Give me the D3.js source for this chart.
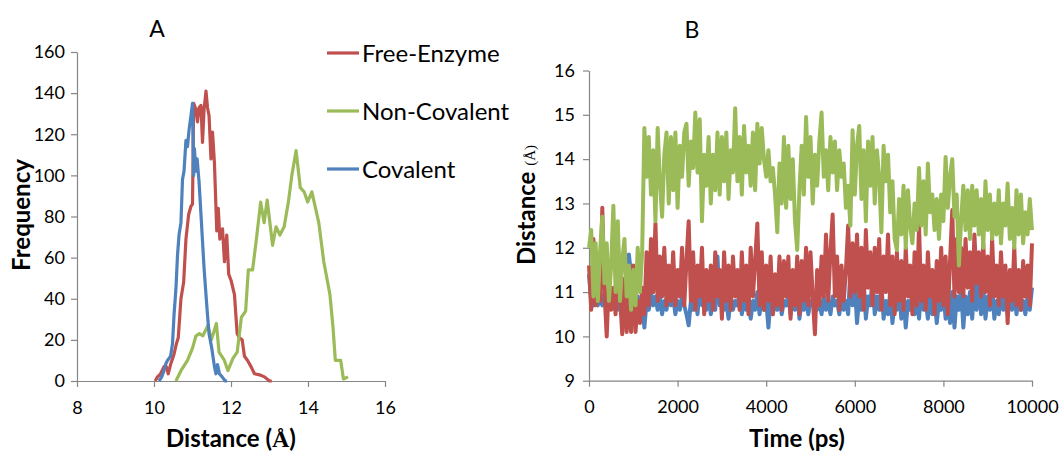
<!DOCTYPE html>
<meta charset="utf-8">
<script src="https://d3js.org/d3.v7.min.js"></script>
<style>
  body { margin: 0; background: #fff; }
  text { font-family: Lato, "Open Sans", sans-serif; fill: #000; }
</style>
<div id="chart"></div>
<script>

  // ---- panel A : distance histograms (distance in Å, frequency) ----
  const freeEnzymeHist = [[10.03,0],[10.09,2],[10.17,3.5],[10.26,7],[10.32,7],[10.37,3.5],[10.43,8],[10.52,13],[10.58,18],[10.63,21],[10.7,40],[10.77,48],[10.83,69],[10.9,81],[10.96,85],[11.0,86],[11.03,135],[11.09,132],[11.13,126],[11.17,133],[11.22,134],[11.26,116],[11.3,132],[11.35,141],[11.39,133],[11.43,129],[11.48,108],[11.52,121],[11.57,106],[11.63,73],[11.67,84],[11.71,69],[11.78,74],[11.83,58],[11.89,71],[11.94,52],[12.0,49],[12.09,42],[12.16,23],[12.22,21],[12.29,20],[12.35,12],[12.43,10],[12.52,7],[12.61,3.5],[12.74,3],[12.87,2],[13.0,0],[13.06,0]];
  const nonCovalentHist = [[10.57,0],[10.7,5],[10.87,10],[11.0,16],[11.09,22],[11.18,23],[11.27,22],[11.4,27],[11.49,20],[11.62,28],[11.69,14],[11.83,10],[11.92,5],[12.05,11],[12.16,14],[12.27,31],[12.38,34],[12.45,54],[12.56,54],[12.66,69],[12.77,87],[12.86,77],[12.94,88],[13.08,66],[13.17,75],[13.27,71],[13.38,75],[13.49,87],[13.58,100],[13.69,112],[13.8,94],[13.9,92],[13.99,87],[14.1,92],[14.28,77],[14.41,58],[14.57,42],[14.65,26],[14.71,10],[14.85,10],[14.92,1],[15.04,2]];
  const covalentHist = [[10.13,0],[10.2,2],[10.26,5],[10.3,8],[10.35,10],[10.43,12],[10.48,18],[10.52,32],[10.57,45],[10.61,61],[10.65,71],[10.7,77],[10.74,98],[10.78,102],[10.83,117],[10.87,114],[10.91,122],[10.96,129],[11.0,135],[11.03,100],[11.05,113],[11.09,102],[11.12,108],[11.17,97],[11.22,81],[11.26,68],[11.3,55],[11.35,42],[11.39,32],[11.43,23],[11.5,16],[11.57,7],[11.61,3.5],[11.65,8],[11.7,3.5],[11.77,2],[11.85,0],[11.9,0]];

  const distTicksA = [8, 10, 12, 14, 16];
  const freqTicksA = [0, 20, 40, 60, 80, 100, 120, 140, 160];

  // ---- panel B : distance vs time, one value every frame (0 .. 10000 ps) ----
  const timeSpan = 10000;
  const freeEnzymeTime = [11.6,10.6,12.2,10.7,11.4,10.8,12.9,11.0,10.0,11.3,10.6,11.1,10.5,12.2,10.9,10.05,11.3,10.1,11.0,10.1,11.6,10.1,10.8,10.3,11.1,
    10.5,11.9,10.7,12.2,11.0,12.55,10.8,11.8,10.9,12.0,10.7,11.6,10.8,11.9,10.7,11.5,10.9,12.0,10.7,11.7,12.6,10.8,11.9,10.6,11.6,
    10.9,12.0,10.5,11.5,10.8,11.6,10.6,11.9,10.9,11.5,10.4,11.9,10.8,11.6,10.6,11.8,10.9,11.5,10.6,11.9,10.8,11.6,10.5,12.0,10.9,
    11.7,12.55,10.7,11.9,10.6,11.6,10.8,11.8,10.5,11.4,10.7,11.8,10.6,11.7,10.9,11.8,10.4,11.5,10.7,11.8,10.5,11.7,10.8,12.0,10.7,
    11.9,10.9,10.05,11.5,10.7,11.8,10.9,12.3,10.8,11.9,12.75,10.9,11.8,10.6,11.6,10.8,11.5,12.5,10.9,12.1,11.0,12.3,10.9,12.0,10.6,
    12.4,11.1,11.9,10.7,12.0,11.0,12.2,10.6,11.8,11.0,12.3,10.7,11.8,10.5,11.9,10.8,11.7,10.6,12.0,10.9,11.6,10.5,11.9,10.7,12.5,
    10.8,11.6,10.6,11.9,10.9,11.5,10.5,11.7,10.8,12.0,10.7,11.8,10.5,11.7,12.85,10.9,12.2,11.0,12.0,10.9,12.2,11.1,11.9,10.8,12.3,
    11.2,11.9,10.9,12.1,11.0,11.8,10.7,12.2,10.9,11.6,10.7,11.9,10.9,11.6,10.3,11.5,10.8,12.0,10.7,11.5,10.6,11.7,10.9,11.6,10.7,12.1];
  const nonCovalentTime = [12.0,12.4,10.9,12.1,10.8,11.9,12.7,11.2,12.1,10.8,11.6,12.95,11.0,12.6,10.8,11.7,12.2,10.9,11.6,10.6,11.5,10.7,12.0,11.0,11.9,
    14.7,13.6,14.5,13.2,14.2,12.6,14.7,13.5,12.7,14.1,14.6,13.0,14.5,13.3,14.6,12.9,14.3,13.6,14.6,14.8,13.4,14.4,13.8,15.05,13.7,
    14.9,12.6,14.1,13.4,14.5,13.0,14.1,13.3,14.6,13.2,14.5,13.5,14.6,13.1,14.2,13.7,15.15,13.5,14.5,13.2,14.75,13.7,14.3,13.4,14.6,
    13.3,14.8,13.9,14.7,14.0,13.6,14.2,13.5,13.8,13.2,12.35,13.9,13.0,14.5,12.9,14.3,13.1,14.0,12.6,11.95,13.3,14.3,13.2,14.95,13.6,
    14.5,13.0,14.1,13.4,14.4,15.05,13.6,14.2,13.3,14.5,13.7,14.4,13.3,14.2,13.6,13.9,12.9,13.4,12.5,14.65,13.2,14.3,14.75,13.1,14.2,
    12.6,14.4,13.4,14.5,13.0,14.2,13.6,12.35,14.3,13.5,14.1,12.8,13.5,12.2,11.95,13.1,12.3,13.4,12.0,13.3,12.5,12.1,13.0,12.4,13.8,
    12.5,13.5,12.3,13.9,12.8,13.2,12.4,13.1,12.2,13.2,12.6,14.05,12.9,13.6,14.0,12.7,13.2,11.6,12.6,13.4,12.4,13.3,12.2,13.4,12.5,
    13.3,12.3,13.1,12.0,13.5,12.4,13.2,12.2,13.0,12.3,13.3,12.1,13.0,12.5,13.45,12.2,12.9,12.0,13.3,12.3,13.2,12.1,12.8,12.3,13.1,12.4];
  const covalentTime = [11.4,10.8,10.7,11.0,10.7,10.9,10.7,11.0,10.8,10.7,10.9,10.7,11.0,10.6,10.8,10.6,10.9,10.7,11.85,11.4,10.8,10.7,10.9,10.6,10.8,
    10.2,10.8,10.6,11.0,10.7,10.9,10.6,10.9,10.5,10.8,10.6,11.0,10.7,10.9,10.5,10.8,10.6,10.9,10.7,10.5,10.25,10.8,10.6,11.0,10.5,
    11.2,10.7,10.9,10.6,11.0,10.5,10.8,10.6,11.8,10.7,10.9,10.6,10.8,10.4,10.9,10.6,10.8,10.7,11.0,10.5,10.8,10.6,10.9,10.4,10.8,
    10.6,11.0,10.5,10.9,10.6,10.8,10.2,10.9,10.5,10.8,10.6,10.9,10.5,10.8,10.7,10.9,10.5,10.8,10.6,11.0,10.4,10.8,10.6,10.9,10.5,
    10.8,10.7,10.9,10.6,10.8,10.5,10.9,10.6,10.8,10.5,10.9,10.7,10.8,10.5,10.9,10.6,10.8,10.5,11.5,10.7,11.2,10.3,10.9,10.6,11.2,
    10.4,10.9,10.7,11.3,10.5,10.9,10.6,11.2,10.4,10.8,10.5,11.0,10.3,10.8,10.6,11.1,10.4,10.9,10.2,10.8,10.6,11.0,10.5,10.9,10.4,
    11.1,10.6,10.8,10.4,11.0,10.5,10.9,10.3,10.8,10.6,11.0,10.4,10.8,10.3,11.0,10.2,10.9,10.6,11.1,10.2,10.9,10.5,11.0,10.4,11.3,
    10.6,11.5,10.5,11.1,10.4,10.9,10.6,11.1,10.4,10.8,10.5,11.0,10.6,10.9,10.5,10.8,10.6,11.0,10.5,10.9,10.6,10.8,10.5,10.9,10.6,11.1];

  const timeTicksB = [0, 2000, 4000, 6000, 8000, 10000];
  const distTicksB = [9, 10, 11, 12, 13, 14, 15, 16];

  const seriesNames = ["Free-Enzyme", "Non-Covalent", "Covalent"];
  const colors = { "Free-Enzyme": "#C0504D", "Non-Covalent": "#9BBB59", "Covalent": "#4F81BD" };
  const axisColor = "#868686";

  const svg = d3.select("#chart").append("svg")
    .attr("width", 1059)
    .attr("height", 452);

  function styleAxis(g) {
    g.selectAll("path, line").attr("stroke", axisColor).attr("stroke-width", 1.2);
    g.selectAll("text").style("font-size", "18px").attr("fill", "#000");
  }

  // ================= panel A =================
  const xA = d3.scaleLinear().domain([8, 16]).range([77, 385]);
  const yA = d3.scaleLinear().domain([0, 160]).range([381, 52]);

  svg.append("g")
    .attr("transform", `translate(0, ${yA(0)})`)
    .call(d3.axisBottom(xA).tickValues(distTicksA).tickSize(6).tickSizeOuter(0).tickPadding(14))
    .call(styleAxis);
  svg.append("g")
    .attr("transform", `translate(${xA(8)}, 0)`)
    .call(d3.axisLeft(yA).tickValues(freqTicksA).tickSize(6).tickSizeOuter(0).tickPadding(6))
    .call(styleAxis);

  const lineA = d3.line().x(d => xA(d[0])).y(d => yA(d[1]));
  const histA = [["Free-Enzyme", freeEnzymeHist], ["Non-Covalent", nonCovalentHist], ["Covalent", covalentHist]];
  svg.selectAll(".histline")
    .data(histA)
    .join("path")
    .attr("class", "histline")
    .attr("d", d => lineA(d[1]))
    .attr("fill", "none")
    .attr("stroke", d => colors[d[0]])
    .attr("stroke-width", 3.2)
    .attr("stroke-linejoin", "round");

  svg.append("text").attr("x", 157).attr("y", 37)
    .attr("text-anchor", "middle").style("font-size", "23px").text("A");

  const xTitleA = svg.append("text").attr("x", 231).attr("y", 447)
    .attr("text-anchor", "middle").style("font-size", "24px").style("font-weight", "bold");
  xTitleA.append("tspan").text("Distance (");
  xTitleA.append("tspan").style("font-family", "'Liberation Serif', serif").text("Å");
  xTitleA.append("tspan").text(")");

  svg.append("text")
    .attr("transform", "translate(30, 215) rotate(-90)")
    .attr("text-anchor", "middle").style("font-size", "24px").style("font-weight", "bold")
    .text("Frequency");

  // legend
  const legend = svg.selectAll(".legend")
    .data(seriesNames)
    .join("g")
    .attr("class", "legend")
    .attr("transform", (d, i) => `translate(327, ${53 + i * 58})`);
  legend.append("line")
    .attr("x1", 0).attr("x2", 32)
    .attr("stroke", d => colors[d]).attr("stroke-width", 3.2);
  legend.append("text")
    .attr("x", 35).attr("dy", "0.38em")
    .style("font-size", "24px")
    .text(d => d);

  // ================= panel B =================
  const xB = d3.scaleLinear().domain([0, timeSpan]).range([589, 1032]);
  const yB = d3.scaleLinear().domain([9, 16]).range([380.7, 70.5]);

  svg.append("g")
    .attr("transform", `translate(0, ${yB(9)})`)
    .call(d3.axisBottom(xB).tickValues(timeTicksB).tickFormat(d3.format("d")).tickSize(6).tickSizeOuter(0).tickPadding(14))
    .call(styleAxis);
  svg.append("g")
    .attr("transform", `translate(${xB(0)}, 0)`)
    .call(d3.axisLeft(yB).tickValues(distTicksB).tickFormat(d3.format("d")).tickSize(6).tickSizeOuter(0).tickPadding(8))
    .call(styleAxis);

  function toPoints(values) {
    return values.map((v, i) => [i * timeSpan / (values.length - 1), v]);
  }
  const lineB = d3.line().x(d => xB(d[0])).y(d => yB(d[1]));
  const timeB = [["Covalent", covalentTime], ["Free-Enzyme", freeEnzymeTime], ["Non-Covalent", nonCovalentTime]];
  svg.selectAll(".timeline")
    .data(timeB)
    .join("path")
    .attr("class", "timeline")
    .attr("d", d => lineB(toPoints(d[1])))
    .attr("fill", "none")
    .attr("stroke", d => colors[d[0]])
    .attr("stroke-width", 4)
    .attr("stroke-linejoin", "round");

  svg.append("text").attr("x", 692).attr("y", 38)
    .attr("text-anchor", "middle").style("font-size", "23px").text("B");

  svg.append("text").attr("x", 797).attr("y", 447)
    .attr("text-anchor", "middle").style("font-size", "24px").style("font-weight", "bold")
    .text("Time (ps)");

  const yTitleB = svg.append("text")
    .attr("transform", "translate(535, 205) rotate(-90)")
    .attr("text-anchor", "middle").style("font-size", "24px").style("font-weight", "bold");
  yTitleB.append("tspan").text("Distance ");
  yTitleB.append("tspan").style("font-size", "15px").style("font-weight", "normal")
    .style("font-family", "'Liberation Serif', serif").text("(Å)");

</script>
